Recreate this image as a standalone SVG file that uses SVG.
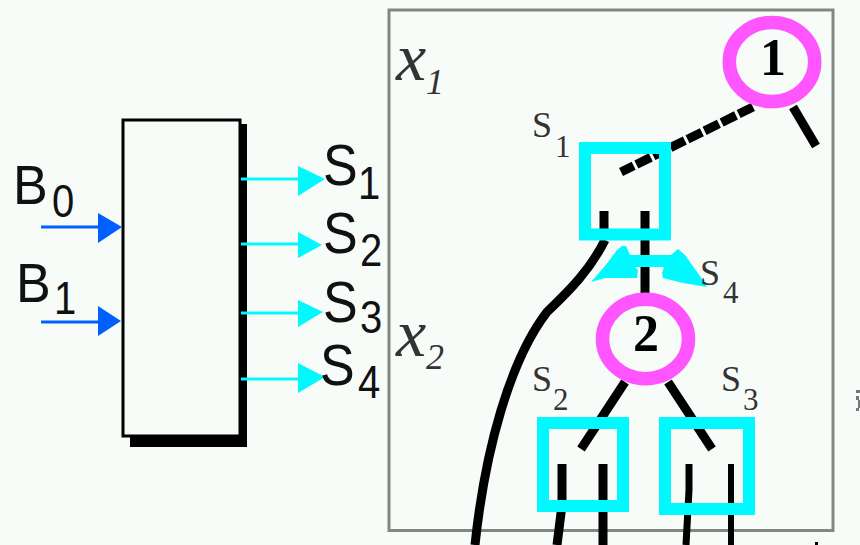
<svg xmlns="http://www.w3.org/2000/svg" width="860" height="545" viewBox="0 0 860 545">
<style>
.sans{font-family:"Liberation Sans",Arial,sans-serif;fill:#111}
.big{font-size:52px}.sub{font-size:40px}
.ser{font-family:"Liberation Serif","Times New Roman",serif;fill:#333}
.k{fill:none;stroke:#000;stroke-width:9}
.kv{fill:none;stroke:#000;stroke-width:9}
.c{fill:none;stroke:#00f8ff;stroke-width:12}
.m{fill:none;stroke:#ff55ff;stroke-width:13.500}
.bl{stroke:#0060ff;stroke-width:3;fill:none}.blh{fill:#0060ff}
.cy{stroke:#00f8ff;stroke-width:3;fill:none}.cyh{fill:#00f8ff}
</style>
<rect width="860" height="545" fill="#f8fcf8"/>
<rect id="frame" x="389" y="10" width="444" height="520.500" fill="none" stroke="#808880" stroke-width="3"/>
<path id="edge-mark" d="M856 390h4v3h-4zM856 396h3v4h-3zM858 400h2v8h-2zM856 408h3v3h-3z" fill="#777"/>
<rect id="edge-dot" x="815" y="542" width="3" height="3" fill="#000"/>
<g id="block">
<rect x="130" y="124" width="117" height="323" fill="#000"/>
<rect x="123" y="120" width="117" height="316" fill="#f8fcf8" stroke="#000" stroke-width="3"/>
</g>
<g id="connectors">
<path class="bl" d="M41 227H100M41 322H100"/>
<path class="blh" d="M98 213L122 227L98 243ZM98 306L121 321L98 336Z"/>
<path class="cy" d="M241 179H300M241 244H300M241 313H300M241 379H300"/>
<path class="cyh" d="M298 166L325 179L298 196ZM298 232L322 245L298 258ZM298 300L323 312L298 327ZM298 363L325 377L298 393Z"/>
<path class="k" d="M753 107L621 172" stroke-dasharray="16 3"/>
<path class="k" d="M793 107L816 146"/>
<path class="kv" d="M605 240C590 270 570 290 547 312C510 360 485 450 475 545"/>
<path class="kv" d="M604 211V240"/>
<path class="kv" d="M645 211V295"/>
<path class="k" d="M625 382L581 449"/>
<path class="k" d="M668 382L712 449"/>
<path class="kv" d="M562 464V505L557 545"/>
<path class="kv" d="M603 464V545"/>
<path class="k" d="M689 464V490L686 545" style="stroke-width:7"/>
<path class="k" d="M731 464V545" style="stroke-width:6"/>
</g>
<g id="s4-arrow">
<path class="cyh" d="M591 282L605 266L617 250L622 246H626L630 255H671L678 249L685 255L692 265L700 276L707 287L683 283L663 278L662 273L664 267H635L638 270L637 278H605Z"/>
</g>
<g id="node-1"><ellipse class="m" cx="772" cy="62" rx="42.700" ry="39.500"/><text class="ser" x="773" y="75" font-size="52" font-weight="bold" text-anchor="middle" style="fill:#000">1</text></g>
<g id="node-2"><ellipse class="m" cx="645.500" cy="339" rx="43" ry="39.700"/><text class="ser" x="646" y="351" font-size="52" font-weight="bold" text-anchor="middle" style="fill:#000">2</text></g>
<g id="square-s1"><rect class="c" x="585" y="148" width="80" height="86.500"/></g>
<g id="square-s2"><rect class="c" x="543" y="423" width="80" height="83"/></g>
<g id="square-s3"><rect class="c" x="665" y="423" width="84" height="86"/></g>
<g id="labels-left">
<text class="sans big" transform="translate(13 204) scale(1 1.05)">B</text><text class="sans sub" transform="translate(52 217) scale(1 1.17)">0</text>
<text class="sans big" transform="translate(16 302) scale(1 1.05)">B</text><text class="sans sub" transform="translate(54 314) scale(1 1.17)">1</text>
</g>
<g id="labels-right">
<text class="sans big" transform="translate(323 185) scale(1 1.12)">S</text><text class="sans sub" transform="translate(358 199) scale(1 1.17)">1</text>
<text class="sans big" transform="translate(323 253) scale(1 1.12)">S</text><text class="sans sub" transform="translate(360 266) scale(1 1.17)">2</text>
<text class="sans big" transform="translate(323 322) scale(1 1.12)">S</text><text class="sans sub" transform="translate(360 333) scale(1 1.17)">3</text>
<text class="sans big" transform="translate(320 385) scale(1 1.12)">S</text><text class="sans sub" transform="translate(358 398) scale(1 1.17)">4</text>
</g>
<g id="labels-tree">
<text class="ser" x="396" y="80" font-size="68" font-style="italic">x</text><text class="ser" x="426" y="94" font-size="36" font-style="italic">1</text>
<text class="ser" x="396" y="356" font-size="68" font-style="italic">x</text><text class="ser" x="426" y="369" font-size="36" font-style="italic">2</text>
<text class="ser" x="532" y="137" font-size="36">S</text><text class="ser" x="555" y="157" font-size="31">1</text>
<text class="ser" x="532" y="391" font-size="36">S</text><text class="ser" x="553" y="410" font-size="31">2</text>
<text class="ser" x="721" y="391" font-size="36">S</text><text class="ser" x="743" y="410" font-size="31">3</text>
<text class="ser" x="700" y="285" font-size="36">S</text><text class="ser" x="723" y="303" font-size="31">4</text>
</g>
</svg>
